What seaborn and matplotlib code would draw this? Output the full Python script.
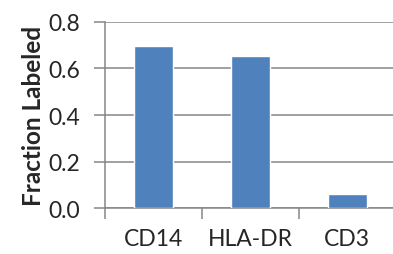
import matplotlib
matplotlib.use("Agg")
import matplotlib.pyplot as plt
import seaborn as sns
import pandas as pd

markers = ["CD14", "HLA-DR", "CD3"]
fraction = [0.697, 0.652, 0.060]
yticks = [0.0, 0.2, 0.4, 0.6, 0.8]

df = pd.DataFrame({"marker": markers, "fraction": fraction})

sns.set_style("white")
plt.rcParams['font.family'] = ['Lato', 'DejaVu Sans']

fig = plt.figure(figsize=(3.93, 2.55), dpi=100)
ax = fig.add_axes([0.267, 0.18, 0.74, 0.73])

sns.barplot(data=df, x="marker", y="fraction", color="#4F81BD", width=0.4,
            saturation=1, ax=ax, zorder=3)

ax.set_ylim(0, 0.8)
ax.set_xlim(-0.5, 2.5)
ax.set_yticks(yticks)
ax.set_yticklabels([f"{t:.1f}" for t in yticks], fontsize=16.5)
ax.set_xticks([-0.5, 0.5, 1.5, 2.5], minor=False)
ax.set_xticklabels([])
ax.set_xticks([0, 1, 2], minor=True)
ax.set_xticklabels(markers, minor=True, fontsize=16.5)
ax.tick_params(axis="x", which="major", bottom=True, length=8, width=1.1, color="#868686", direction="out")
ax.tick_params(axis="x", which="minor", bottom=False, length=0, pad=14)
ax.tick_params(axis="y", left=True, length=8, width=1.1, color="#868686", direction="out", pad=10)
ax.grid(axis="y", color="#868686", linewidth=1.1, zorder=0)
ax.set_axisbelow(True)

for s in ["top", "right"]:
    ax.spines[s].set_visible(False)
for s in ["left", "bottom"]:
    ax.spines[s].set_color("#868686")
    ax.spines[s].set_linewidth(1.1)

ax.set_xlabel("")
ax.set_ylabel("Fraction Labeled", fontsize=17.5, fontweight="bold", labelpad=2)

fig.savefig("out.png", dpi=100)
